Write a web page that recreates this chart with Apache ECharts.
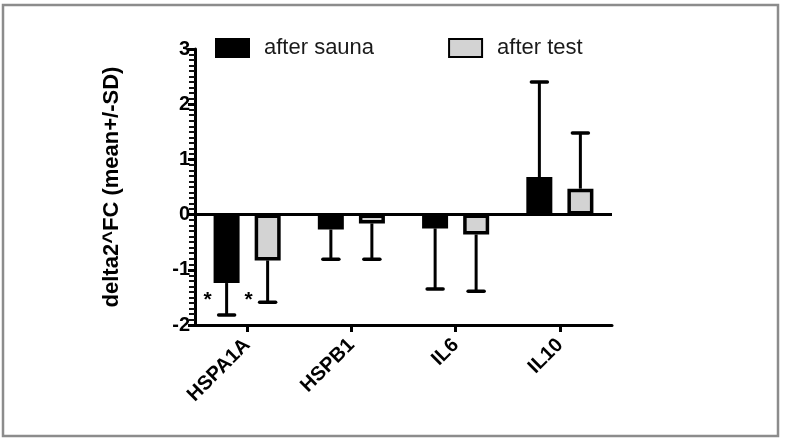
<!DOCTYPE html>
<html>
<head>
<meta charset="utf-8">
<script src="https://cdn.jsdelivr.net/npm/echarts@6/dist/echarts.min.js"></script>
<style>
  html, body { margin: 0; padding: 0; background: #ffffff; }
  #main { width: 786px; height: 440px; }
</style>
</head>
<body>
<div id="main"></div>
<script>
  // data
  var categories = ['HSPA1A', 'HSPB1', 'IL6', 'IL10'];
  var seriesNames = ['after sauna', 'after test'];
  var meanSauna = [-1.24, -0.27, -0.25, 0.68];
  var sdSauna = [0.58, 0.54, 1.10, 1.72];
  var meanTest = [-0.83, -0.16, -0.36, 0.47];
  var sdTest = [0.76, 0.65, 1.03, 1.01];
  // significance marks and the height they sit at
  var starSauna = ['*', '', '', ''];
  var starTest = ['*', '', '', ''];
  var starLevel = [-1.52, null, null, null];
  var yTicks = [-2, -1, 0, 1, 2, 3];

  var myChart = echarts.init(document.getElementById('main'));

  // error bar (mean +/- sd away from zero) with optional star mark
  function errorSeries(means, sds, stars, shift) {
    return {
      type: 'custom',
      z: 5,
      silent: true,
      data: means.map(function (m, i) { return [i, m, sds[i], starLevel[i] == null ? 0 : starLevel[i]]; }),
      renderItem: function (params, api) {
        var i = api.value(0), m = api.value(1), sd = api.value(2);
        var end = m >= 0 ? m + sd : m - sd;
        var p0 = api.coord([i, m]);
        var p1 = api.coord([i, end]);
        var x = p0[0] + shift;
        var kids = [
          { type: 'line', shape: { x1: x, y1: p0[1], x2: x, y2: p1[1] },
            style: { stroke: '#000', lineWidth: 3 } },
          { type: 'line', shape: { x1: x - 8, y1: p1[1], x2: x + 8, y2: p1[1] },
            style: { stroke: '#000', lineWidth: 3.5, lineCap: 'round' } }
        ];
        if (stars[i]) {
          var ps = api.coord([i, api.value(3)]);
          kids.push({ type: 'text', x: x - 19, y: ps[1] + 2,
            style: { text: stars[i], fill: '#000', font: 'bold 21px "Liberation Sans"',
              align: 'center', verticalAlign: 'middle' } });
        }
        return { type: 'group', children: kids };
      }
    };
  }

  var option = {
    backgroundColor: '#ffffff',
    animation: false,
    textStyle: { fontFamily: 'Liberation Sans' },
    graphic: [{
      type: 'rect',
      shape: { x: 3, y: 5, width: 775, height: 431 },
      style: { fill: 'none', stroke: '#8c8c8c', lineWidth: 2.5 },
      silent: true
    }],
    legend: {
      left: 210,
      top: 32,
      itemWidth: 33,
      itemHeight: 18,
      itemGap: 74,
      icon: 'rect',
      textStyle: { fontSize: 22, color: '#1a1a1a', padding: [0, 0, 0, 10] },
      data: seriesNames
    },
    grid: { left: 195, right: 174, top: 49, bottom: 115 },
    xAxis: {
      type: 'category',
      data: categories,
      axisLine: { onZero: false, lineStyle: { color: '#000', width: 3 } },
      axisTick: { show: true, alignWithLabel: true, length: 7, lineStyle: { color: '#000', width: 3 } },
      axisLabel: { rotate: 45, fontSize: 20, fontWeight: 'bold', color: '#000', margin: 17 }
    },
    yAxis: {
      type: 'value',
      min: yTicks[0],
      max: yTicks[yTicks.length - 1],
      interval: 1,
      name: 'delta2^FC (mean+/-SD)',
      nameLocation: 'middle',
      nameGap: 72,
      nameTextStyle: { fontSize: 22, fontWeight: 'bold', color: '#000' },
      splitLine: { show: true, lineStyle: { color: 'rgba(0,0,0,0)' } },
      axisLine: { show: true, lineStyle: { color: '#000', width: 3 } },
      axisTick: { show: true, length: 7, lineStyle: { color: '#000', width: 3 } },
      minorTick: { show: true, splitNumber: 10, length: 6, lineStyle: { color: '#111', width: 2 } },
      axisLabel: { fontSize: 20, fontWeight: 'bold', color: '#000', margin: 5 }
    },
    series: [
      {
        name: seriesNames[0],
        type: 'bar',
        data: meanSauna,
        barWidth: 26,
        barGap: '58%',
        itemStyle: { color: '#000', borderColor: '#000', borderWidth: 3 },
        markLine: {
          silent: true,
          symbol: 'none',
          label: { show: false },
          lineStyle: { color: '#000', width: 3, type: 'solid' },
          data: [{ yAxis: 0 }]
        }
      },
      {
        name: seriesNames[1],
        type: 'bar',
        data: meanTest,
        barWidth: 26,
        itemStyle: { color: '#d3d3d3', borderColor: '#000', borderWidth: 3.5 }
      },
      errorSeries(meanSauna, sdSauna, starSauna, -20.5),
      errorSeries(meanTest, sdTest, starTest, 20.5)
    ]
  };

  myChart.setOption(option);
</script>
</body>
</html>
